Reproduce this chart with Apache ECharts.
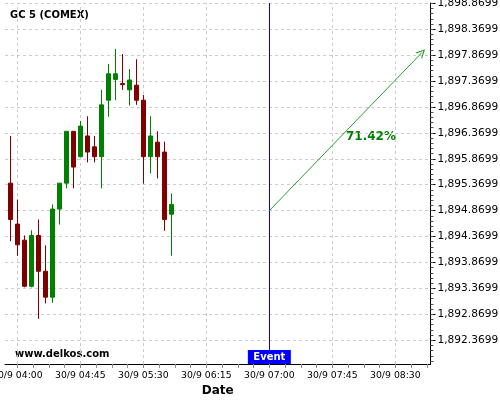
<!DOCTYPE html>
<html>
<head>
<meta charset="utf-8">
<script src="https://cdn.jsdelivr.net/npm/echarts@6/dist/echarts.min.js"></script>
<style>
html,body{margin:0;padding:0;background:#fff;}
#chart{width:500px;height:400px;}
</style>
</head>
<body>
<div id="chart"></div>
<script>
// ---- data ----
const dayLabel = '30/9';
const times  = ['03:55','04:00','04:05','04:10','04:15','04:20','04:25','04:30','04:35','04:40','04:45','04:50',
                '04:55','05:00','05:05','05:10','05:15','05:20','05:25','05:30','05:35','05:40','05:45','05:50'];
const openV  = [1895.40,1894.61,1894.30,1893.41,1894.39,1893.70,1893.20,1894.90,1895.40,1896.40,1895.91,1896.31,
                1896.10,1895.91,1897.00,1897.40,1897.32,1897.20,1897.29,1897.00,1895.91,1896.19,1896.00,1894.80];
const closeV = [1894.70,1894.21,1893.41,1894.39,1893.70,1893.20,1894.90,1895.40,1896.40,1895.71,1896.50,1896.00,
                1895.91,1896.91,1897.51,1897.51,1897.30,1897.39,1897.00,1895.91,1896.31,1895.91,1894.70,1894.99];
const lowV   = [1894.28,1894.00,1893.39,1893.39,1892.78,1893.08,1893.09,1894.60,1895.30,1895.30,1895.91,1895.80,
                1895.80,1895.30,1896.68,1897.00,1897.20,1896.90,1896.91,1895.39,1895.59,1895.49,1894.48,1894.00];
const highV  = [1896.31,1895.08,1894.39,1894.49,1894.70,1894.20,1894.99,1895.40,1896.40,1896.40,1896.60,1896.69,
                1896.31,1897.20,1897.70,1897.99,1897.89,1897.60,1897.79,1897.10,1896.69,1896.40,1896.20,1895.20];

const xLabelTimes = ['04:00','04:45','05:30','06:15','07:00','07:45','08:30'];
const yTickValues = [1892.3699,1892.8699,1893.3699,1893.8699,1894.3699,1894.8699,1895.3699,
                     1895.8699,1896.3699,1896.8699,1897.3699,1897.8699,1898.3699,1898.8699];

const eventTime = '07:00';
const eventValue = 1894.8699;
const targetTime = '08:49';
const targetValue = 1897.92;
const changeText = '71.42%';
const titleText = 'GC 5 (COMEX)';
const watermark = 'www.delkos.com';
const xName = 'Date';

// ---- helpers ----
function toMin(s){ const p = s.split(':'); return (+p[0])*60 + (+p[1]); }
function pad(n){ return (n<10?'0':'') + n; }
function fmtTime(m){ m = Math.round(m); return dayLabel + ' ' + pad(Math.floor(m/60)) + ':' + pad(m%60); }
function fmtVal(v){
  const s = Number(v).toFixed(4).split('.');
  return s[0].replace(/\B(?=(\d{3})+(?!\d))/g, ',') + '.' + s[1];
}

const xMin = 231.2, xMax = 535.1;
const yMin = 1891.911, yMax = 1898.875;

const xLabelVals = xLabelTimes.map(toMin);
const xTickVals = [];
for (let k = 0; k <= 30; k++) { const v = xLabelVals[0] + k * 11.25; if (v <= xMax) xTickVals.push(v); }
const yMinorVals = [];
for (let k = 0; k < 80; k++) { const v = Math.round((yTickValues[0] - 0.4 + k * 0.1) * 10000) / 10000; if (v >= yMin && v <= yMax) yMinorVals.push(v); }

const candleData = times.map((t, i) => [toMin(t), openV[i], closeV[i], lowV[i], highV[i]]);

const gridStyle = { color: '#cccccc', type: [3, 3], width: 1 };
const gridLines = xLabelVals.map(v => ({ xAxis: v })).concat(yTickValues.map(v => ({ yAxis: v })));

const FONT = 'DejaVu Sans';
const chart = echarts.init(document.getElementById('chart'), null, { renderer: 'canvas' });
chart.setOption({
  animation: false,
  backgroundColor: '#ffffff',
  textStyle: { fontFamily: FONT },
  grid: { left: 5, right: 69.5, top: 3, bottom: 36, containLabel: false, outerBoundsMode: 'none' },
  xAxis: [{
    type: 'value', min: xMin, max: xMax,
    name: xName, nameLocation: 'middle', nameGap: 20,
    nameTextStyle: { fontFamily: FONT, fontWeight: 'bold', fontSize: 12, color: '#000' },
    axisLine: { show: true, lineStyle: { color: '#000', width: 1 } },
    axisTick: { show: true, length: 4, customValues: xTickVals, lineStyle: { color: '#888' } },
    axisLabel: { show: true, customValues: xLabelVals, formatter: fmtTime, margin: 7,
                 fontFamily: FONT, fontSize: 9.3, color: '#000' },
    splitLine: { show: false }
  }],
  yAxis: [{
    type: 'value', position: 'right', min: yMin, max: yMax,
    axisLine: { show: true, lineStyle: { color: '#000', width: 1 } },
    axisTick: { show: true, length: 5, customValues: yTickValues, lineStyle: { color: '#000' } },
    axisLabel: { show: true, customValues: yTickValues, formatter: fmtVal, margin: 7,
                 fontFamily: FONT, fontSize: 10.6, color: '#000' },
    splitLine: { show: false }
  }, {
    type: 'value', position: 'right', min: yMin, max: yMax,
    axisLine: { show: false },
    axisTick: { show: true, length: 3, customValues: yMinorVals, lineStyle: { color: '#555' } },
    axisLabel: { show: false },
    splitLine: { show: false }
  }],
  series: [{
    type: 'line', data: [], z: 1, silent: true,
    markLine: {
      z: 1, silent: true, symbol: ['none', 'none'], animation: false,
      label: { show: false }, lineStyle: gridStyle,
      data: gridLines
    }
  }, {
    type: 'candlestick', z: 3,
    dimensions: ['time', 'open', 'close', 'lowest', 'highest'],
    encode: { x: 'time', y: ['open', 'close', 'lowest', 'highest'] },
    barWidth: 4,
    itemStyle: { color: '#008000', color0: '#800000', borderColor: '#008000', borderColor0: '#800000', borderWidth: 1 },
    data: candleData
  }, {
    type: 'line', data: [], z: 4, silent: true,
    markLine: {
      z: 5, silent: true, animation: false, label: { show: false },
      data: [
        [{ coord: [toMin(eventTime), yMin], symbol: 'none', lineStyle: { color: '#0000ff', width: 1, type: 'solid' } },
         { coord: [toMin(eventTime), yMax], symbol: 'none' }],
        [{ coord: [toMin(eventTime), eventValue], symbol: 'none', lineStyle: { color: '#2e9b2e', width: 1, type: 'solid' } },
         { coord: [toMin(targetTime), targetValue], symbol: 'path://M5,0 L10,10 L8.6,10 L5,2.8 L1.4,10 L0,10 Z', symbolSize: 9 }]
      ]
    },
    markPoint: {
      z: 6, silent: true, animation: false,
      data: [{
        coord: [toMin(eventTime), yMin], symbol: 'rect', symbolSize: [43, 14], symbolOffset: [0, -7],
        itemStyle: { color: '#0000ff' },
        label: { show: true, position: 'inside', formatter: 'Event', color: '#ffffff',
                 fontFamily: FONT, fontWeight: 'bold', fontSize: 10 }
      }]
    }
  }],
  graphic: [
    { type: 'text', left: 10, top: 10, style: { text: titleText, fill: '#000', font: 'bold 10px "DejaVu Sans"' } },
    { type: 'text', left: 15, top: 349, style: { text: watermark, fill: '#000', font: 'bold 10px "DejaVu Sans"' } },
    { type: 'text', x: 371, y: 137, style: { text: changeText, fill: '#008000', font: 'bold 12px "DejaVu Sans"', align: 'center', verticalAlign: 'middle' } }
  ]
});
</script>
</body>
</html>
